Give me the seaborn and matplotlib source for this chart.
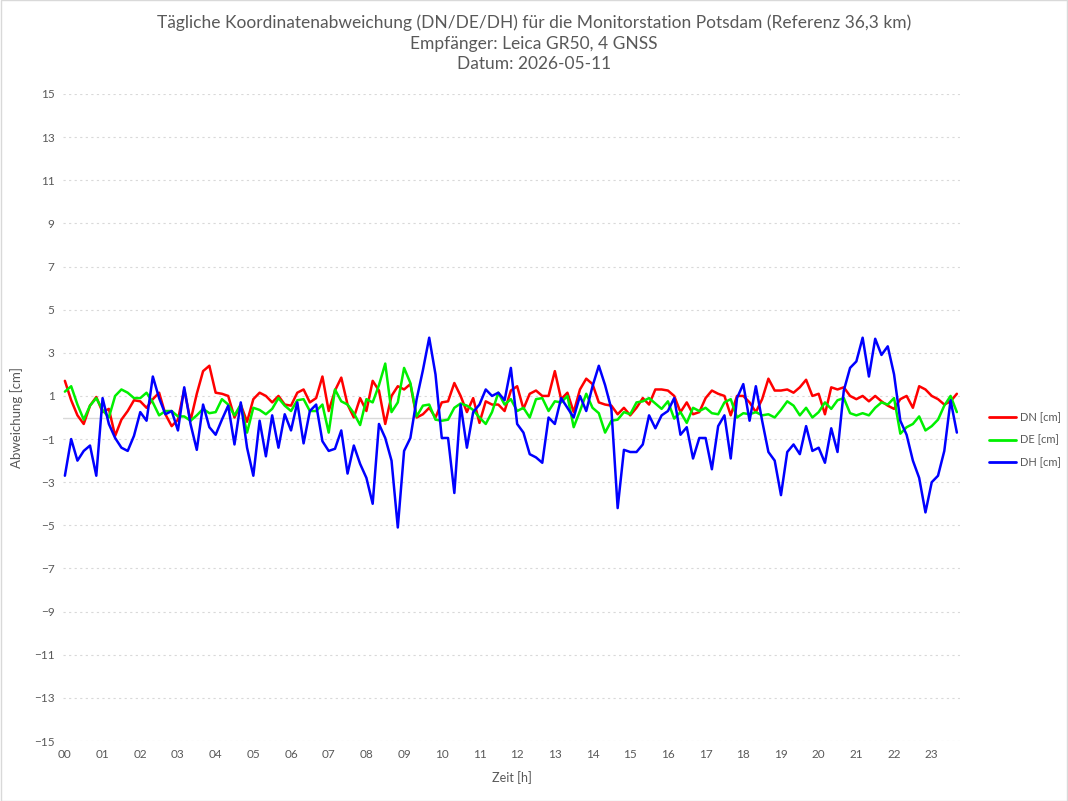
import numpy as np
import pandas as pd
import matplotlib.pyplot as plt
import seaborn as sns

sns.set_style("white")
plt.rcParams['font.family'] = ['Lato', 'DejaVu Sans']

# sampling interval of the readings (minutes)
step_min = 10

series_names = ['DN [cm]', 'DE [cm]', 'DH [cm]']
series_colors = ['#ff0000', '#00f000', '#0000ff']

dn = [1.7, 0.8, 0.1, -0.3, 0.55, 0.95,
      0.25, 0.4, -0.85, -0.1, 0.3, 0.8,
      0.75, 0.45, 0.85, 1.15, 0.15, -0.4,
      -0.1, 1.3, -0.15, 1.1, 2.15, 2.4,
      1.15, 1.1, 1.0, 0.0, 0.6, -0.2,
      0.85, 1.15, 1.0, 0.7, 1.0, 0.6,
      0.55, 1.15, 1.3, 0.7, 0.9, 1.9,
      0.3, 1.25, 1.85, 0.6, 0.0, 0.9,
      0.3, 1.7, 1.25, -0.3, 1.0, 1.45,
      1.3, 1.55, 0.0, 0.15, 0.45, 0.0,
      0.7, 0.75, 1.6, 1.0, 0.25, 0.9,
      -0.25, 0.75, 0.6, 0.6, 0.3, 1.25,
      1.45, 0.4, 1.1, 1.25, 1.0, 1.0,
      2.15, 0.85, 1.15, 0.25, 1.3, 1.8,
      1.55, 0.7, 0.6, 0.55, 0.15, 0.45,
      0.1, 0.45, 0.9, 0.6, 1.3, 1.3,
      1.25, 1.0, 0.25, 0.7, 0.15, 0.25,
      0.9, 1.25, 1.1, 1.0, 0.1, 1.0,
      1.0, 0.7, 0.25, 0.85, 1.8, 1.25,
      1.25, 1.3, 1.15, 1.4, 1.75, 1.0,
      1.1, 0.15, 1.4, 1.3, 1.4, 1.0,
      0.85, 1.0, 0.75, 1.0, 0.75, 0.55,
      0.4, 0.85, 1.0, 0.45, 1.45, 1.3,
      1.0, 0.85, 0.6, 0.75, 1.1]

de = [1.2, 1.45, 0.6, -0.1, 0.55, 0.9,
      0.35, 0.0, 1.0, 1.3, 1.15, 0.9,
      0.9, 1.15, 0.7, 0.1, 0.3, 0.3,
      0.05, 0.05, -0.15, 0.1, 0.4, 0.2,
      0.25, 0.85, 0.6, 0.1, 0.6, -0.7,
      0.45, 0.35, 0.15, 0.4, 0.9, 0.55,
      0.3, 0.8, 0.85, 0.3, 0.3, 0.6,
      -0.7, 1.3, 0.75, 0.6, 0.2, -0.35,
      0.85, 0.7, 1.5, 2.5, 0.25, 0.7,
      2.3, 1.6, 0.05, 0.55, 0.6, -0.1,
      -0.15, -0.1, 0.45, 0.65, 0.55, 0.35,
      0.0, -0.3, 0.25, 1.15, 0.6, 0.85,
      0.3, 0.45, 0.0, 0.85, 0.9, 0.3,
      0.75, 0.7, 1.0, -0.45, 0.3, 1.1,
      0.45, 0.2, -0.7, -0.15, -0.1, 0.25,
      0.15, 0.7, 0.75, 0.9, 0.65, 0.4,
      0.75, -0.05, 0.25, -0.25, 0.45, 0.3,
      0.45, 0.2, 0.15, 0.7, 0.85, 0.0,
      0.2, 0.15, 0.25, 0.1, 0.15, 0.0,
      0.35, 0.75, 0.55, 0.1, 0.45, 0.0,
      0.25, 0.7, 0.4, 0.8, 0.9, 0.2,
      0.1, 0.2, 0.1, 0.45, 0.7, 0.6,
      0.9, -0.75, -0.45, -0.3, 0.05, -0.6,
      -0.4, -0.1, 0.55, 1.0, 0.25]

dh = [-2.7, -1.0, -2.0, -1.55, -1.3, -2.7,
      0.9, -0.3, -0.95, -1.4, -1.55, -0.85,
      0.25, -0.15, 1.9, 0.9, 0.15, 0.3,
      -0.6, 1.4, -0.3, -1.5, 0.6, -0.45,
      -0.8, -0.1, 0.55, -1.25, 0.7, -1.4,
      -2.7, -0.15, -1.8, 0.1, -1.4, 0.15,
      -0.6, 0.7, -1.2, 0.3, 0.6, -1.1,
      -1.55, -1.45, -0.6, -2.6, -1.3, -2.15,
      -2.8, -4.0, -0.3, -0.95, -2.0, -5.1,
      -1.55, -0.95, 0.85, 2.2, 3.7, 2.0,
      -0.95, -0.95, -3.5, 0.6, -1.4, 0.25,
      0.6, 1.3, 1.0, 1.15, 0.8, 2.3,
      -0.3, -0.7, -1.7, -1.85, -2.1, 0.0,
      -0.3, 0.9, 0.45, 0.0, 1.0, 0.3,
      1.45, 2.4, 1.5, 0.4, -4.2, -1.5,
      -1.6, -1.6, -1.25, 0.1, -0.5, 0.1,
      0.3, 0.9, -0.8, -0.45, -1.9, -0.95,
      -0.95, -2.4, -0.4, 0.1, -1.9, 0.9,
      1.55, -0.15, 1.45, -0.15, -1.6, -2.0,
      -3.6, -1.6, -1.25, -1.7, -0.4, -1.55,
      -1.4, -2.1, -0.5, -1.6, 1.25, 2.3,
      2.6, 3.7, 1.9, 3.65, 2.9, 3.3,
      2.0, -0.15, -0.8, -2.0, -2.8, -4.4,
      -3.0, -2.7, -1.55, 0.8, -0.7]

hour_labels = [f"{h:02d}" for h in range(24)]
y_ticks = list(range(-15, 16, 2))

title = ("Tägliche Koordinatenabweichung (DN/DE/DH) für die Monitorstation Potsdam (Referenz 36,3 km)\n"
         "Empfänger: Leica GR50, 4 GNSS\n"
         "Datum: 2026-05-11")

hours = np.arange(len(dn)) * step_min / 60.0
df = pd.DataFrame({'Zeit': np.concatenate([hours] * 3),
                   'Wert': np.concatenate([dn, de, dh]),
                   'Reihe': np.repeat(series_names, len(dn))})

grey = '#595959'
fig = plt.figure(figsize=(10.68, 8.01), dpi=100)
ax = fig.add_axes([63 / 1068, 1 - 741 / 801, 897 / 1068, 647 / 801])

# grid and zero line
for v in y_ticks:
    ax.axhline(v, color='#d9d9d9', lw=0.8, ls=(0, (2, 3)), zorder=0)
ax.axhline(0, color='#d9d9d9', lw=1.0, zorder=1)

sns.lineplot(data=df, x='Zeit', y='Wert', hue='Reihe', hue_order=series_names,
             palette=series_colors, linewidth=1.8, ax=ax, legend=False, zorder=3)

ax.set_xlim(-0.05, 23.75)
ax.set_ylim(-15, 15)
ax.set_xticks(range(24))
ax.set_xticklabels(hour_labels)
ax.set_yticks(y_ticks)
ax.tick_params(axis='both', length=0, labelsize=8.5, colors=grey, pad=6)
for s in ax.spines.values():
    s.set_visible(False)
ax.set_xlabel('Zeit [h]', fontsize=9, color=grey, labelpad=8)
ax.set_ylabel('Abweichung [cm]', fontsize=9.5, color=grey, labelpad=0)
ax.yaxis.set_label_coords(-40 / 897, 0.5)

fig.text(0.5, 0.982, title, ha='center', va='top', fontsize=12.5, color=grey,
         linespacing=1.35)

handles = [plt.Line2D([], [], color=c, lw=2) for c in series_colors]
fig.legend(handles, series_names, loc='center left',
           bbox_to_anchor=(979 / 1068, 1 - 440 / 801), frameon=False,
           fontsize=8, labelcolor=grey, handlelength=2.4, handletextpad=0.4,
           labelspacing=1.05)

# thin border around the whole chart
fig.patches.append(plt.Rectangle((0.0005, 0.0005), 0.999, 0.999, transform=fig.transFigure,
                                 fill=False, edgecolor='#d9d9d9', lw=1))

fig.savefig('out.png', dpi=100)
